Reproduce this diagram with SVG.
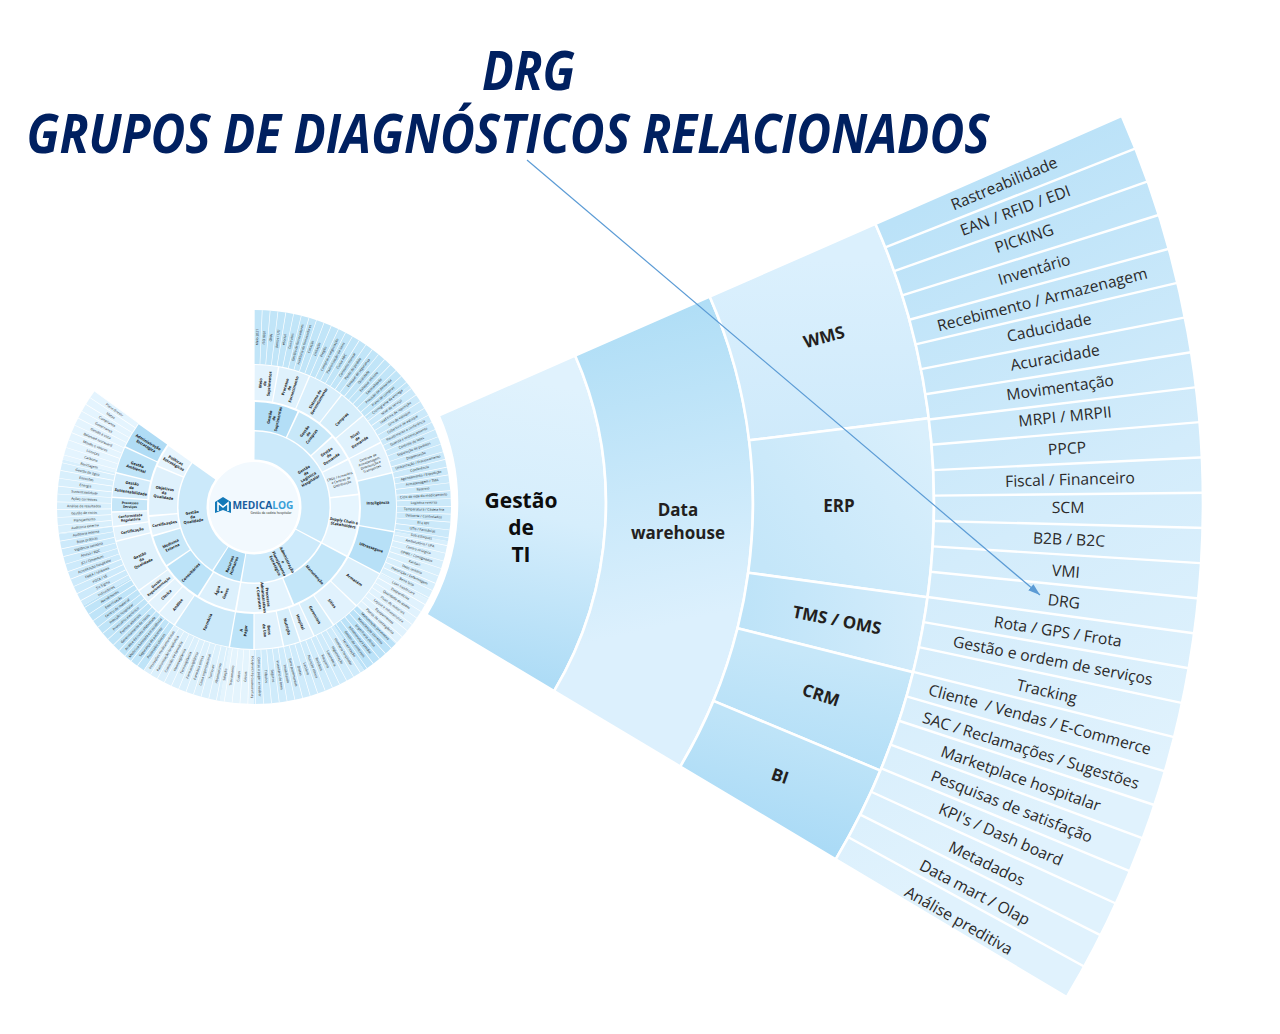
<svg xmlns="http://www.w3.org/2000/svg" width="1280" height="1034" viewBox="0 0 1280 1034">
<style>
text{font-family:"Open Sans","Noto Sans","Liberation Sans",sans-serif;fill:#231f20;text-anchor:middle}
.title{font-weight:700;font-style:italic;font-size:53px;fill:#002060}
.seg{stroke:#fff;stroke-width:2.6}
.sep{stroke:#fff;stroke-width:2.4}
.leaf text,text.leaf{font-size:15.7px;fill:#2b2a2a}
.big{font-weight:700;font-size:17px}
.rings{fill:none}
.t text{font-size:3.4px;fill:#1f1f1f}
.s text{font-size:3.9px;font-weight:700;fill:#111}
</style>
<defs>
<linearGradient id="gTI" gradientUnits="userSpaceOnUse" x1="530" y1="380" x2="470" y2="665"><stop offset="0" stop-color="#e0f2fd"/><stop offset=".45" stop-color="#d6eefc"/><stop offset="1" stop-color="#aedcf6"/></linearGradient>
<linearGradient id="gDW" gradientUnits="userSpaceOnUse" x1="620" y1="320" x2="690" y2="620"><stop offset="0" stop-color="#b0def6"/><stop offset="1" stop-color="#dcf0fd"/></linearGradient>
<linearGradient id="gWMS" gradientUnits="userSpaceOnUse" x1="800" y1="260" x2="800" y2="440"><stop offset="0" stop-color="#dbf0fd"/><stop offset="1" stop-color="#cfeafb"/></linearGradient>
<linearGradient id="gERP" gradientUnits="userSpaceOnUse" x1="760" y1="560" x2="920" y2="430"><stop offset="0" stop-color="#c4e6f9"/><stop offset="1" stop-color="#d9effc"/></linearGradient>
<linearGradient id="gTMS" gradientUnits="userSpaceOnUse" x1="745" y1="640" x2="920" y2="620"><stop offset="0" stop-color="#bde3f8"/><stop offset="1" stop-color="#d3ecfb"/></linearGradient>
<linearGradient id="gCRM" gradientUnits="userSpaceOnUse" x1="800" y1="650" x2="780" y2="750"><stop offset="0" stop-color="#c6e7f9"/><stop offset="1" stop-color="#b4dff7"/></linearGradient>
<linearGradient id="gBI" gradientUnits="userSpaceOnUse" x1="790" y1="730" x2="760" y2="840"><stop offset="0" stop-color="#bfe4f8"/><stop offset="1" stop-color="#a9daf6"/></linearGradient>
<linearGradient id="gLeaf" gradientUnits="userSpaceOnUse" x1="880" y1="230" x2="1160" y2="760"><stop offset="0" stop-color="#bbe2f8"/><stop offset=".55" stop-color="#d3ecfb"/><stop offset="1" stop-color="#e0f2fd"/></linearGradient>
<marker id="arrow" markerUnits="userSpaceOnUse" markerWidth="13" markerHeight="10" refX="12" refY="4" orient="auto"><path d="M0,0L12,4L0,8Z" fill="#5b9bd5"/></marker>
</defs>
<rect width="1280" height="1034" fill="#fff"/>

<g id="fan">
<g id="gestao-ti"><path class="seg" fill="url(#gTI)" d="M438.6,415.5L575.1,355.6A367,367 0 0 1 554.1,691.1L426.2,614.7A218,218 0 0 0 438.6,415.5Z"/>
<text class="big" style="font-size:21px;fill:#0d0d0d" x="521" y="508">Gestão</text><text class="big" style="font-size:21px;fill:#0d0d0d" x="521" y="535">de</text><text class="big" style="font-size:21px;fill:#0d0d0d" x="521" y="562">TI</text></g>
<g id="data-warehouse"><path class="seg" fill="url(#gDW)" d="M575.1,355.6L709.7,296.6A514,514 0 0 1 680.3,766.5L554.1,691.1A367,367 0 0 0 575.1,355.6Z"/>
<text class="big" x="678" y="516">Data</text><text class="big" x="678" y="539">warehouse</text></g>
<g id="wms"><path class="seg" fill="url(#gWMS)" d="M709.7,296.6L875.5,223.9A695,695 0 0 1 928.8,418.3L749.1,440.3A514,514 0 0 0 709.7,296.6Z"/>
<text class="big" x="824" y="343" transform="rotate(-15.5 824 337)">WMS</text></g>
<g id="erp"><path class="seg" fill="url(#gERP)" d="M749.1,440.3L928.8,418.3A695,695 0 0 1 927.5,597.3L748.2,572.7A514,514 0 0 0 749.1,440.3Z"/>
<text class="big" x="839" y="512">ERP</text></g>
<g id="tms"><path class="seg" fill="url(#gTMS)" d="M748.2,572.7L927.5,597.3A695,695 0 0 1 913.1,672.3L737.5,628.2A514,514 0 0 0 748.2,572.7Z"/>
<text class="big" x="837" y="626" transform="rotate(11 837 620)">TMS / OMS</text></g>
<g id="crm"><path class="seg" fill="url(#gCRM)" d="M737.5,628.2L913.1,672.3A695,695 0 0 1 880.4,770.6L713.4,700.9A514,514 0 0 0 737.5,628.2Z"/>
<text class="big" x="821" y="701" transform="rotate(18 821 695)">CRM</text></g>
<g id="bi"><path class="seg" fill="url(#gBI)" d="M713.4,700.9L880.4,770.6A695,695 0 0 1 835.7,859.3L680.3,766.5A514,514 0 0 0 713.4,700.9Z"/>
<text class="big" x="780" y="782" transform="rotate(19 780 776)">BI</text></g>
<g id="leaves" class="leaf"><path class="seg" fill="url(#gLeaf)" d="M875.5,223.9L1121.8,115.9A964,964 0 0 1 1066.7,997.2L835.7,859.3A695,695 0 0 0 875.5,223.9Z"/>
<g class="sep">
<line x1="934" y1="503" x2="1206" y2="503" transform="rotate(-21.58 239 503)"/><line x1="934" y1="503" x2="1206" y2="503" transform="rotate(-19.49 239 503)"/><line x1="934" y1="503" x2="1206" y2="503" transform="rotate(-17.39 239 503)"/><line x1="934" y1="503" x2="1206" y2="503" transform="rotate(-15.29 239 503)"/><line x1="934" y1="503" x2="1206" y2="503" transform="rotate(-13.2 239 503)"/><line x1="934" y1="503" x2="1206" y2="503" transform="rotate(-11.1 239 503)"/><line x1="934" y1="503" x2="1206" y2="503" transform="rotate(-9 239 503)"/><line x1="934" y1="503" x2="1206" y2="503" transform="rotate(-6.9 239 503)"/><line x1="934" y1="503" x2="1206" y2="503" transform="rotate(-4.81 239 503)"/><line x1="934" y1="503" x2="1206" y2="503" transform="rotate(-2.71 239 503)"/><line x1="934" y1="503" x2="1206" y2="503" transform="rotate(-.61 239 503)"/><line x1="934" y1="503" x2="1206" y2="503" transform="rotate(1.48 239 503)"/><line x1="934" y1="503" x2="1206" y2="503" transform="rotate(3.58 239 503)"/><line x1="934" y1="503" x2="1206" y2="503" transform="rotate(5.68 239 503)"/><line x1="934" y1="503" x2="1206" y2="503" transform="rotate(7.77 239 503)"/><line x1="934" y1="503" x2="1206" y2="503" transform="rotate(9.87 239 503)"/><line x1="934" y1="503" x2="1206" y2="503" transform="rotate(11.97 239 503)"/><line x1="934" y1="503" x2="1206" y2="503" transform="rotate(14.06 239 503)"/><line x1="934" y1="503" x2="1206" y2="503" transform="rotate(16.16 239 503)"/><line x1="934" y1="503" x2="1206" y2="503" transform="rotate(18.26 239 503)"/><line x1="934" y1="503" x2="1206" y2="503" transform="rotate(20.35 239 503)"/><line x1="934" y1="503" x2="1206" y2="503" transform="rotate(22.45 239 503)"/><line x1="934" y1="503" x2="1206" y2="503" transform="rotate(24.55 239 503)"/><line x1="934" y1="503" x2="1206" y2="503" transform="rotate(26.64 239 503)"/><line x1="934" y1="503" x2="1206" y2="503" transform="rotate(28.74 239 503)"/>
</g>
<text x="1004" y="189" transform="rotate(-22.63 1004 183)">Rastreabilidade</text>
<text x="1015" y="216" transform="rotate(-20.53 1015 210)">EAN / RFID / EDI</text>
<text x="1024" y="244" transform="rotate(-18.44 1024 238)">PICKING</text>
<text x="1034" y="275" transform="rotate(-16.34 1034 269)">Inventário</text>
<text x="1042" y="305" transform="rotate(-14.24 1042 299)">Recebimento / Armazenagem</text>
<text x="1049" y="333" transform="rotate(-12.15 1049 327)">Caducidade</text>
<text x="1055" y="363" transform="rotate(-10.05 1055 357)">Acuracidade</text>
<text x="1060" y="393" transform="rotate(-7.95 1060 387)">Movimentação</text>
<text x="1065" y="422" transform="rotate(-5.86 1065 416)">MRPI / MRPII</text>
<text x="1067" y="454" transform="rotate(-3.76 1067 448)">PPCP</text>
<text x="1070" y="485" transform="rotate(-1.66 1070 479)">Fiscal / Financeiro</text>
<text x="1068" y="513" transform="rotate(.43 1068 507)">SCM</text>
<text x="1069" y="545" transform="rotate(2.53 1069 539)">B2B / B2C</text>
<text x="1066" y="577" transform="rotate(4.63 1066 571)">VMI</text>
<text x="1064" y="607" transform="rotate(6.72 1064 601)">DRG</text>
<text x="1058" y="637" transform="rotate(8.82 1058 631)">Rota / GPS / Frota</text>
<text x="1053" y="666" transform="rotate(10.91 1053 660)">Gestão e ordem de serviços</text>
<text x="1047" y="697" transform="rotate(13.01 1047 691)">Tracking</text>
<text x="1040" y="725" transform="rotate(15.11 1040 719)" xml:space="preserve">Cliente  / Vendas / E-Commerce</text>
<text x="1031" y="756" transform="rotate(17.2 1031 750)">SAC / Reclamações / Sugestões</text>
<text x="1021" y="784" transform="rotate(19.3 1021 778)">Marketplace hospitalar</text>
<text x="1012" y="812" transform="rotate(21.4 1012 806)">Pesquisas de satisfação</text>
<text x="1001" y="840" transform="rotate(23.49 1001 834)">KPI's / Dash board</text>
<text x="987" y="869" transform="rotate(25.59 987 863)">Metadados</text>
<text x="975" y="898" transform="rotate(27.69 975 892)">Data mart / Olap</text>
<text x="959" y="926" transform="rotate(29.78 959 920)">Análise preditiva</text>
</g>
</g>

<g id="wheel">
<g class="rings" transform="translate(254 507) rotate(-90)">
<g stroke-width="54">
<circle r="170" pathLength="360" stroke="#c1e5f8" stroke-dasharray="52 360"/>
<circle r="170" pathLength="360" stroke="#cbe9fa" stroke-dasharray="48 360" stroke-dashoffset="-52"/>
<circle r="170" pathLength="360" stroke="#d8effc" stroke-dasharray="18 360" stroke-dashoffset="-100"/>
<circle r="170" pathLength="360" stroke="#e0f2fd" stroke-dasharray="16 360" stroke-dashoffset="-118"/>
<circle r="170" pathLength="360" stroke="#bbe2f8" stroke-dasharray="12 360" stroke-dashoffset="-134"/>
<circle r="170" pathLength="360" stroke="#cfebfb" stroke-dasharray="34 360" stroke-dashoffset="-146"/>
<circle r="170" pathLength="360" stroke="#e4f4fd" stroke-dasharray="10 360" stroke-dashoffset="-180"/>
<circle r="170" pathLength="360" stroke="#dbf0fc" stroke-dasharray="24 360" stroke-dashoffset="-190"/>
<circle r="170" pathLength="360" stroke="#bfe4f8" stroke-dasharray="26 360" stroke-dashoffset="-214"/>
<circle r="170" pathLength="360" stroke="#cdeafb" stroke-dasharray="22 360" stroke-dashoffset="-240"/>
<circle r="170" pathLength="360" stroke="#d8effc" stroke-dasharray="22 360" stroke-dashoffset="-262"/>
<circle r="170" pathLength="360" stroke="#e4f4fe" stroke-dasharray="22 360" stroke-dashoffset="-284"/>
<circle r="170" pathLength="360" stroke="#fff" stroke-dasharray=".22 2.08"/>
</g>
<g stroke-width="35">
<circle r="124.5" pathLength="360" stroke="#e3f3fd" stroke-dasharray="9.4 360" stroke-dashoffset="-.3"/>
<circle r="124.5" pathLength="360" stroke="#dff1fc" stroke-dasharray="12.4 360" stroke-dashoffset="-10.3"/>
<circle r="124.5" pathLength="360" stroke="#d9effc" stroke-dasharray="14.4 360" stroke-dashoffset="-23.3"/>
<circle r="124.5" pathLength="360" stroke="#d6eefb" stroke-dasharray="11.4 360" stroke-dashoffset="-38.3"/>
<circle r="124.5" pathLength="360" stroke="#e0f2fd" stroke-dasharray="12.4 360" stroke-dashoffset="-50.3"/>
<circle r="124.5" pathLength="360" stroke="#e3f3fd" stroke-dasharray="12.4 360" stroke-dashoffset="-63.3"/>
<circle r="124.5" pathLength="360" stroke="#c6e7f9" stroke-dasharray="23.4 360" stroke-dashoffset="-76.3"/>
<circle r="124.5" pathLength="360" stroke="#b7e0f7" stroke-dasharray="17.4 360" stroke-dashoffset="-100.3"/>
<circle r="124.5" pathLength="360" stroke="#dcf0fc" stroke-dasharray="15.4 360" stroke-dashoffset="-118.3"/>
<circle r="124.5" pathLength="360" stroke="#e1f2fd" stroke-dasharray="11.4 360" stroke-dashoffset="-134.3"/>
<circle r="124.5" pathLength="360" stroke="#d6eefb" stroke-dasharray="8.4 360" stroke-dashoffset="-146.3"/>
<circle r="124.5" pathLength="360" stroke="#e1f2fd" stroke-dasharray="5.4 360" stroke-dashoffset="-155.3"/>
<circle r="124.5" pathLength="360" stroke="#d6eefb" stroke-dasharray="6.4 360" stroke-dashoffset="-161.3"/>
<circle r="124.5" pathLength="360" stroke="#e1f2fd" stroke-dasharray="11.4 360" stroke-dashoffset="-168.3"/>
<circle r="124.5" pathLength="360" stroke="#bce3f8" stroke-dasharray="9.4 360" stroke-dashoffset="-180.3"/>
<circle r="124.5" pathLength="360" stroke="#cbe9fa" stroke-dasharray="23.4 360" stroke-dashoffset="-190.3"/>
<circle r="124.5" pathLength="360" stroke="#e3f3fd" stroke-dasharray="7.4 360" stroke-dashoffset="-214.3"/>
<circle r="124.5" pathLength="360" stroke="#e3f3fd" stroke-dasharray="5.4 360" stroke-dashoffset="-222.3"/>
<circle r="124.5" pathLength="360" stroke="#e3f3fd" stroke-dasharray="5.4 360" stroke-dashoffset="-228.3"/>
<circle r="124.5" pathLength="360" stroke="#dff1fc" stroke-dasharray="21.4 360" stroke-dashoffset="-234.3"/>
<circle r="124.5" pathLength="360" stroke="#e3f3fd" stroke-dasharray="5.4 360" stroke-dashoffset="-256.3"/>
<circle r="124.5" pathLength="360" stroke="#e3f3fd" stroke-dasharray="5.4 360" stroke-dashoffset="-262.3"/>
<circle r="124.5" pathLength="360" stroke="#c5e6f8" stroke-dasharray="5.4 360" stroke-dashoffset="-268.3"/>
<circle r="124.5" pathLength="360" stroke="#d3ecfb" stroke-dasharray="9.4 360" stroke-dashoffset="-274.3"/>
<circle r="124.5" pathLength="360" stroke="#bfe4f8" stroke-dasharray="10.4 360" stroke-dashoffset="-284.3"/>
<circle r="124.5" pathLength="360" stroke="#b0dcf5" stroke-dasharray="10.4 360" stroke-dashoffset="-295.3"/>
</g>
<g stroke-width="28">
<circle r="91" pathLength="360" stroke="#b3def6" stroke-dasharray="24 360" stroke-dashoffset="-.5"/>
<circle r="91" pathLength="360" stroke="#c8e8f9" stroke-dasharray="22 360" stroke-dashoffset="-25.5"/>
<circle r="91" pathLength="360" stroke="#e0f2fd" stroke-dasharray="14 360" stroke-dashoffset="-48.5"/>
<circle r="91" pathLength="360" stroke="#e3f3fd" stroke-dasharray="19 360" stroke-dashoffset="-63.5"/>
<circle r="91" pathLength="360" stroke="#e6f5fe" stroke-dasharray="34 360" stroke-dashoffset="-83.5"/>
<circle r="91" pathLength="360" stroke="#c3e6f9" stroke-dasharray="39 360" stroke-dashoffset="-118.5"/>
<circle r="91" pathLength="360" stroke="#e3f3fd" stroke-dasharray="31 360" stroke-dashoffset="-158.5"/>
<circle r="91" pathLength="360" stroke="#dcf0fc" stroke-dasharray="21 360" stroke-dashoffset="-190.5"/>
<circle r="91" pathLength="360" stroke="#bce3f8" stroke-dasharray="23 360" stroke-dashoffset="-212.5"/>
<circle r="91" pathLength="360" stroke="#c8e8f9" stroke-dasharray="17 360" stroke-dashoffset="-236.5"/>
<circle r="91" pathLength="360" stroke="#e3f3fd" stroke-dasharray="10 360" stroke-dashoffset="-254.5"/>
<circle r="91" pathLength="360" stroke="#dff1fc" stroke-dasharray="27 360" stroke-dashoffset="-265.5"/>
<circle r="91" pathLength="360" stroke="#e7f5fe" stroke-dasharray="12 360" stroke-dashoffset="-293.5"/>
</g>
<g stroke-width="28">
<circle r="61.5" pathLength="360" stroke="#cbe9fa" stroke-dasharray="116.8 360" stroke-dashoffset="-.6"/>
<circle r="61.5" pathLength="360" stroke="#cdeafb" stroke-dasharray="70.8 360" stroke-dashoffset="-118.6"/>
<circle r="61.5" pathLength="360" stroke="#b3def6" stroke-dasharray="21.8 360" stroke-dashoffset="-190.6"/>
<circle r="61.5" pathLength="360" stroke="#cbe9fa" stroke-dasharray="91.8 360" stroke-dashoffset="-213.6"/>
</g>
</g>
<g id="hub"><circle cx="254" cy="507" r="45" fill="#f2f9fe"/>
<path d="M215,502L223,497L231,502V513L223,510L215,513Z" fill="#1379b8"/><path d="M218,511V503L223,507L228,503V511" fill="none" stroke="#fff" stroke-width="1.6"/>
<text x="263" y="509" style="font-size:10.2px;font-weight:700;fill:#1a5ea0">MEDICA<tspan fill="#3aa0d8">LOG</tspan></text>
<text x="271" y="513.5" style="font-size:3.2px">Gestão da cadeia hospitalar</text></g>

<g id="ring1" class="s">
<text transform="rotate(-31 254 507)" y="501.9"><tspan x="316">Gestão</tspan><tspan x="316" dy="4.4">da</tspan><tspan x="316" dy="4.4">Logística</tspan><tspan x="316" dy="4.4">Hospitalar</tspan></text>
<text transform="rotate(64 254 507)" y="501.9"><tspan x="316">Administração</tspan><tspan x="316" dy="4.4">e</tspan><tspan x="316" dy="4.4">Planejamento</tspan><tspan x="316" dy="4.4">Estratégico</tspan></text>
<text transform="rotate(-69 254 507)" y="506.3"><tspan x="192">Recursos</tspan><tspan x="192" dy="4.4">Humanos</tspan></text>
<text transform="rotate(-9 254 507)" y="504.1"><tspan x="192">Gestão</tspan><tspan x="192" dy="4.4">da</tspan><tspan x="192" dy="4.4">Qualidade</tspan></text>
</g>
<g id="ring2" class="s">
<text transform="rotate(-77.5 254 507)" y="504.1"><tspan x="345">Gestão</tspan><tspan x="345" dy="4.4">de</tspan><tspan x="345" dy="4.4">Suprimentos</tspan></text>
<text transform="rotate(-53.5 254 507)" y="504.1"><tspan x="345">Gestão</tspan><tspan x="345" dy="4.4">de</tspan><tspan x="345" dy="4.4">Compras</tspan></text>
<text transform="rotate(-34.5 254 507)" y="504.1"><tspan x="345">Gestão</tspan><tspan x="345" dy="4.4">de</tspan><tspan x="345" dy="4.4">Demanda</tspan></text>
<text transform="rotate(-17 254 507)" y="504.1" style="font-weight:400;font-size:3.3px"><tspan x="345">CRDs / Armazéns</tspan><tspan x="345" dy="4">e Centros de</tspan><tspan x="345" dy="4">Distribuição</tspan></text>
<text transform="rotate(10 254 507)" y="506.3"><tspan x="345">Supply Chain e</tspan><tspan x="345" dy="4.4">Stakeholders</tspan></text>
<text transform="rotate(48 254 507)" x="345" y="508.5">Manutenção</text>
<text transform="rotate(84 254 507)" y="504.1"><tspan x="345">Processos</tspan><tspan x="345" dy="4.4">Administrativos</tspan><tspan x="345" dy="4.4">e Contratos</tspan></text>
<text transform="rotate(-69 254 507)" y="504.1"><tspan x="163">Água</tspan><tspan x="163" dy="4.4">e</tspan><tspan x="163" dy="4.4">Gases</tspan></text>
<text transform="rotate(-46 254 507)" x="163" y="508.5">Consultórios</text>
<text transform="rotate(-25 254 507)" y="506.3"><tspan x="163">Medicina</tspan><tspan x="163" dy="4.4">Externa</tspan></text>
<text transform="rotate(-10.5 254 507)" x="163" y="508.5">Certificações</text>
<text transform="rotate(9 254 507)" y="504.1"><tspan x="163">Objetivos</tspan><tspan x="163" dy="4.4">da</tspan><tspan x="163" dy="4.4">Qualidade</tspan></text>
<text transform="rotate(29.5 254 507)" y="506.3"><tspan x="163">Políticas</tspan><tspan x="163" dy="4.4">Estratégicas</tspan></text>
</g>
<g id="ring3" class="s">
<text transform="rotate(-85 254 507)" y="504.1"><tspan x="378">Meio</tspan><tspan x="378" dy="4.4">de</tspan><tspan x="378" dy="4.4">Suprimentos</tspan></text>
<text transform="rotate(-73.5 254 507)" y="504.1"><tspan x="378">Processo</tspan><tspan x="378" dy="4.4">de</tspan><tspan x="378" dy="4.4">Fornecimento</tspan></text>
<text transform="rotate(-59.5 254 507)" y="506.3"><tspan x="378">Sistema de</tspan><tspan x="378" dy="4.4">Gerenciamento</tspan></text>
<text transform="rotate(-45 254 507)" x="378" y="508.5">Compras</text>
<text transform="rotate(-33.5 254 507)" y="504.1"><tspan x="378">Nível</tspan><tspan x="378" dy="4.4">de</tspan><tspan x="378" dy="4.4">Demanda</tspan></text>
<text transform="rotate(-20.5 254 507)" y="501.9" style="font-weight:400;font-size:3.3px"><tspan x="378">Controle de</tspan><tspan x="378" dy="4">Armazenagem,</tspan><tspan x="378" dy="4">Distribuição e</tspan><tspan x="378" dy="4">Transportes</tspan></text>
<text transform="rotate(-2 254 507)" x="378" y="508.5">Inteligência</text>
<text transform="rotate(19 254 507)" x="378" y="508.5">Ultrassegura</text>
<text transform="rotate(36 254 507)" x="378" y="508.5">Armazém</text>
<text transform="rotate(51 254 507)" x="378" y="508.5">Sítios</text>
<text transform="rotate(60.5 254 507)" x="378" y="508.5">Gerenciais</text>
<text transform="rotate(68 254 507)" x="378" y="508.5">Hospital</text>
<text transform="rotate(74.5 254 507)" x="378" y="508.5">Nutrição</text>
<text transform="rotate(84 254 507)" y="506.3"><tspan x="378">Bens</tspan><tspan x="378" dy="4.4">de Uso</tspan></text>
<text transform="rotate(-85 254 507)" y="506.3"><tspan x="130">A</tspan><tspan x="130" dy="4.4">Pagar</tspan></text>
<text transform="rotate(-68 254 507)" x="130" y="508.5">Farmácia</text>
<text transform="rotate(-52 254 507)" x="130" y="508.5">Análise</text>
<text transform="rotate(-45 254 507)" x="130" y="508.5">Clínica</text>
<text transform="rotate(-39 254 507)" y="506.3" style="font-size:3.4px"><tspan x="130">Gestão</tspan><tspan x="130" dy="3.8">Regulamentação</tspan></text>
<text transform="rotate(-25 254 507)" y="504.1"><tspan x="130">Gestão</tspan><tspan x="130" dy="4.4">da</tspan><tspan x="130" dy="4.4">Qualidade</tspan></text>
<text transform="rotate(-11 254 507)" x="130" y="508.5">Certificação</text>
<text transform="rotate(-5 254 507)" y="506.3" style="font-size:3.4px"><tspan x="130">Conformidade</tspan><tspan x="130" dy="3.8">Regulatória</tspan></text>
<text transform="rotate(1 254 507)" y="506.3" style="font-size:3.4px"><tspan x="130">Processos</tspan><tspan x="130" dy="3.8">Serviços</tspan></text>
<text transform="rotate(9 254 507)" y="504.1"><tspan x="130">Gestão</tspan><tspan x="130" dy="4.4">da</tspan><tspan x="130" dy="4.4">Sustentabilidade</tspan></text>
<text transform="rotate(19 254 507)" y="506.3"><tspan x="130">Gestão</tspan><tspan x="130" dy="4.4">Ambiental</tspan></text>
<text transform="rotate(30.5 254 507)" y="506.3"><tspan x="130">Administração</tspan><tspan x="130" dy="4.4">Estratégica</tspan></text>
</g>
<g id="ring4" class="t">
<text transform="rotate(-88.85 254 507)" x="424" y="508">Meio 2021</text>
<text transform="rotate(-86.55 254 507)" x="424" y="508">ISO 9001</text>
<text transform="rotate(-84.25 254 507)" x="424" y="508">ONA</text>
<text transform="rotate(-81.95 254 507)" x="424" y="508">Juntos / UTI</text>
<text transform="rotate(-79.65 254 507)" x="424" y="508">eSocial</text>
<text transform="rotate(-77.35 254 507)" x="424" y="508">Contratos</text>
<text transform="rotate(-75.05 254 507)" x="424" y="508">Gestão de fornecedores</text>
<text transform="rotate(-72.75 254 507)" x="424" y="508">Auditoria de fornecedores</text>
<text transform="rotate(-70.45 254 507)" x="424" y="508">Cotação</text>
<text transform="rotate(-68.15 254 507)" x="424" y="508">Licitação</text>
<text transform="rotate(-65.85 254 507)" x="424" y="508">Pregão</text>
<text transform="rotate(-63.55 254 507)" x="424" y="508">Compras e negociação</text>
<text transform="rotate(-61.25 254 507)" x="424" y="508">Padronização de itens</text>
<text transform="rotate(-58.95 254 507)" x="424" y="508">Curva ABC</text>
<text transform="rotate(-56.65 254 507)" x="424" y="508">Consumo mensal</text>
<text transform="rotate(-54.35 254 507)" x="424" y="508">Ponto de pedido</text>
<text transform="rotate(-52.05 254 507)" x="424" y="508">Estoque de segurança</text>
<text transform="rotate(-49.75 254 507)" x="424" y="508">Qualidade</text>
<text transform="rotate(-47.45 254 507)" x="424" y="508">Estoque mínimo</text>
<text transform="rotate(-45.15 254 507)" x="424" y="508">Sazonalidade</text>
<text transform="rotate(-42.85 254 507)" x="424" y="508">Previsão de demanda</text>
<text transform="rotate(-40.55 254 507)" x="424" y="508">Plano de compras</text>
<text transform="rotate(-38.25 254 507)" x="424" y="508">Cronograma de entrega</text>
<text transform="rotate(-35.95 254 507)" x="424" y="508">Nível de serviço</text>
<text transform="rotate(-33.65 254 507)" x="424" y="508">Lead time de reposição</text>
<text transform="rotate(-31.35 254 507)" x="424" y="508">Giro de estoque</text>
<text transform="rotate(-29.05 254 507)" x="424" y="508">Cobertura de estoque</text>
<text transform="rotate(-26.75 254 507)" x="424" y="508">Recebimento e conferência</text>
<text transform="rotate(-24.45 254 507)" x="424" y="508">Guarda e endereçamento</text>
<text transform="rotate(-22.15 254 507)" x="424" y="508">Controle de lotes</text>
<text transform="rotate(-19.85 254 507)" x="424" y="508">Separação de pedidos</text>
<text transform="rotate(-17.55 254 507)" x="424" y="508">Dispensação</text>
<text transform="rotate(-15.25 254 507)" x="424" y="508">Unitarização / Fracionamento</text>
<text transform="rotate(-12.95 254 507)" x="424" y="508">Conferência</text>
<text transform="rotate(-10.65 254 507)" x="424" y="508">Agendamento / Expedição</text>
<text transform="rotate(-8.35 254 507)" x="424" y="508">Armazenagem / TMA</text>
<text transform="rotate(-6.05 254 507)" x="424" y="508">Rastreio</text>
<text transform="rotate(-3.75 254 507)" x="424" y="508">Ciclo de vida do medicamento</text>
<text transform="rotate(-1.45 254 507)" x="424" y="508">Logística reversa</text>
<text transform="rotate(.85 254 507)" x="424" y="508">Temperatura / Cadeia fria</text>
<text transform="rotate(3.15 254 507)" x="424" y="508">Descarte / Controlados</text>
<text transform="rotate(5.45 254 507)" x="424" y="508">BI e KPI</text>
<text transform="rotate(7.75 254 507)" x="424" y="508">UTIs / Farmácias</text>
<text transform="rotate(10.05 254 507)" x="424" y="508">Sub-estoques</text>
<text transform="rotate(12.35 254 507)" x="424" y="508">Ambulatório / UPA</text>
<text transform="rotate(14.65 254 507)" x="424" y="508">Centro cirúrgico</text>
<text transform="rotate(16.95 254 507)" x="424" y="508">OPME / Consignados</text>
<text transform="rotate(19.25 254 507)" x="424" y="508">Kanban</text>
<text transform="rotate(21.55 254 507)" x="424" y="508">Dose unitária</text>
<text transform="rotate(23.85 254 507)" x="424" y="508">Prescrição / Enfermagem</text>
<text transform="rotate(26.15 254 507)" x="424" y="508">Beira leito</text>
<text transform="rotate(28.45 254 507)" x="424" y="508">Lean healthcare</text>
<text transform="rotate(30.75 254 507)" x="424" y="508">Desperdícios</text>
<text transform="rotate(33.05 254 507)" x="424" y="508">Qualidade de dados</text>
<text transform="rotate(35.35 254 507)" x="424" y="508">Fluxo de materiais</text>
<text transform="rotate(37.65 254 507)" x="424" y="508">Layout e infraestrutura</text>
<text transform="rotate(39.95 254 507)" x="424" y="508">Equipamentos</text>
<text transform="rotate(42.25 254 507)" x="424" y="508">Planos de contingência</text>
<text transform="rotate(44.55 254 507)" x="424" y="508">Manutenção preventiva</text>
<text transform="rotate(46.85 254 507)" x="424" y="508">Manutenção corretiva</text>
<text transform="rotate(49.15 254 507)" x="424" y="508">Engenharia clínica</text>
<text transform="rotate(51.45 254 507)" x="424" y="508">Infraestrutura predial</text>
<text transform="rotate(53.75 254 507)" x="424" y="508">Gestão de contratos</text>
<text transform="rotate(56.05 254 507)" x="424" y="508">Terceirização</text>
<text transform="rotate(58.35 254 507)" x="424" y="508">Hotelaria hospitalar</text>
<text transform="rotate(60.65 254 507)" x="424" y="508">Higienização</text>
<text transform="rotate(62.95 254 507)" x="424" y="508">Lavanderia</text>
<text transform="rotate(65.25 254 507)" x="424" y="508">Rouparia</text>
<text transform="rotate(67.55 254 507)" x="424" y="508">Resíduos</text>
<text transform="rotate(69.85 254 507)" x="424" y="508">Nutrição clínica</text>
<text transform="rotate(72.15 254 507)" x="424" y="508">Lactário</text>
<text transform="rotate(74.45 254 507)" x="424" y="508">Dietas</text>
<text transform="rotate(76.75 254 507)" x="424" y="508">Bens patrimoniais</text>
<text transform="rotate(79.05 254 507)" x="424" y="508">Imobilizado</text>
<text transform="rotate(81.35 254 507)" x="424" y="508">Inventário de bens</text>
<text transform="rotate(83.65 254 507)" x="424" y="508">Seguros</text>
<text transform="rotate(85.95 254 507)" x="424" y="508">Tributos</text>
<text transform="rotate(88.25 254 507)" x="424" y="508">Contas a pagar e receber</text>
<text transform="rotate(-89.45 254 507)" x="84" y="508">Faturamento de convênios</text>
<text transform="rotate(-87.15 254 507)" x="84" y="508">Glosas</text>
<text transform="rotate(-84.85 254 507)" x="84" y="508">Custos</text>
<text transform="rotate(-82.55 254 507)" x="84" y="508">Treinamento</text>
<text transform="rotate(-80.25 254 507)" x="84" y="508">Seleção</text>
<text transform="rotate(-77.95 254 507)" x="84" y="508">Absenteísmo</text>
<text transform="rotate(-75.65 254 507)" x="84" y="508">Turnover</text>
<text transform="rotate(-73.35 254 507)" x="84" y="508">Clima organizacional</text>
<text transform="rotate(-71.05 254 507)" x="84" y="508">Farmácia clínica</text>
<text transform="rotate(-68.75 254 507)" x="84" y="508">Farmacovigilância</text>
<text transform="rotate(-66.45 254 507)" x="84" y="508">Tecnovigilância</text>
<text transform="rotate(-64.15 254 507)" x="84" y="508">Hemovigilância</text>
<text transform="rotate(-61.85 254 507)" x="84" y="508">Comissão de farmácia</text>
<text transform="rotate(-59.55 254 507)" x="84" y="508">Padronização terapêutica</text>
<text transform="rotate(-57.25 254 507)" x="84" y="508">Interações medicamentosas</text>
<text transform="rotate(-54.95 254 507)" x="84" y="508">Protocolos clínicos</text>
<text transform="rotate(-52.65 254 507)" x="84" y="508">Segurança do paciente</text>
<text transform="rotate(-50.35 254 507)" x="84" y="508">Medicina baseada em evidência</text>
<text transform="rotate(-48.05 254 507)" x="84" y="508">Análise de custo efetividade</text>
<text transform="rotate(-45.75 254 507)" x="84" y="508">Gerenciamento de riscos</text>
<text transform="rotate(-43.45 254 507)" x="84" y="508">Eventos adversos</text>
<text transform="rotate(-41.15 254 507)" x="84" y="508">Prontuário eletrônico</text>
<text transform="rotate(-38.85 254 507)" x="84" y="508">Infecção hospitalar</text>
<text transform="rotate(-36.55 254 507)" x="84" y="508">Centro de material</text>
<text transform="rotate(-34.25 254 507)" x="84" y="508">Esterilização</text>
<text transform="rotate(-31.95 254 507)" x="84" y="508">Atendimento</text>
<text transform="rotate(-29.65 254 507)" x="84" y="508">Indicadores</text>
<text transform="rotate(-27.35 254 507)" x="84" y="508">Six Sigma</text>
<text transform="rotate(-25.05 254 507)" x="84" y="508">PDCA / 5S</text>
<text transform="rotate(-22.75 254 507)" x="84" y="508">FMEA / Ishikawa</text>
<text transform="rotate(-20.45 254 507)" x="84" y="508">Acreditação hospitalar</text>
<text transform="rotate(-18.15 254 507)" x="84" y="508">JCI / Qmentum</text>
<text transform="rotate(-15.85 254 507)" x="84" y="508">Anvisa / RDC</text>
<text transform="rotate(-13.55 254 507)" x="84" y="508">Vigilância sanitária</text>
<text transform="rotate(-11.25 254 507)" x="84" y="508">Boas práticas</text>
<text transform="rotate(-8.95 254 507)" x="84" y="508">Auditoria interna</text>
<text transform="rotate(-6.65 254 507)" x="84" y="508">Auditoria externa</text>
<text transform="rotate(-4.35 254 507)" x="84" y="508">Planejamento</text>
<text transform="rotate(-2.05 254 507)" x="84" y="508">Gestão de riscos</text>
<text transform="rotate(.25 254 507)" x="84" y="508">Análise de resultados</text>
<text transform="rotate(2.55 254 507)" x="84" y="508">Ações corretivas</text>
<text transform="rotate(4.85 254 507)" x="84" y="508">Sustentabilidade</text>
<text transform="rotate(7.15 254 507)" x="84" y="508">Energia</text>
<text transform="rotate(9.45 254 507)" x="84" y="508">Emissões</text>
<text transform="rotate(11.75 254 507)" x="84" y="508">Gestão de água</text>
<text transform="rotate(14.05 254 507)" x="84" y="508">Reciclagem</text>
<text transform="rotate(16.35 254 507)" x="84" y="508">Carbono</text>
<text transform="rotate(18.65 254 507)" x="84" y="508">Licenças</text>
<text transform="rotate(20.95 254 507)" x="84" y="508">Missão e valores</text>
<text transform="rotate(23.25 254 507)" x="84" y="508">Balanced scorecard</text>
<text transform="rotate(25.55 254 507)" x="84" y="508">Gestão à vista</text>
<text transform="rotate(27.85 254 507)" x="84" y="508">Governança</text>
<text transform="rotate(30.15 254 507)" x="84" y="508">Compliance</text>
<text transform="rotate(32.45 254 507)" x="84" y="508">Metas</text>
<text transform="rotate(34.75 254 507)" x="84" y="508">Plano diretor</text>
</g>
</g>

<g id="title">
<text class="title" x="528.5" y="90" textLength="93" lengthAdjust="spacingAndGlyphs">DRG</text>
<text class="title" x="508" y="153" textLength="963" lengthAdjust="spacingAndGlyphs">GRUPOS DE DIAGNÓSTICOS RELACIONADOS</text>
</g>
<g id="connectors"><line x1="527" y1="160" x2="1040" y2="595" stroke="#5b9bd5" stroke-width="1.2" marker-end="url(#arrow)"/></g>
</svg>
